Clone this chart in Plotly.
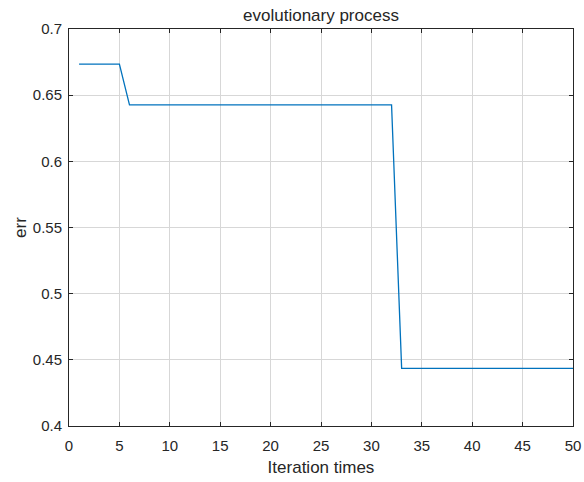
import plotly.graph_objects as go

iterations = list(range(1, 51))
err = [0.6734] * 5 + [0.6426] * 27 + [0.4436] * 18

x_ticks = [0, 5, 10, 15, 20, 25, 30, 35, 40, 45, 50]
y_ticks = [0.4, 0.45, 0.5, 0.55, 0.6, 0.65, 0.7]
y_labels = ["0.4", "0.45", "0.5", "0.55", "0.6", "0.65", "0.7"]

FONT = "Liberation Sans, Arial"
DARK = "#262626"

fig = go.Figure()
fig.add_trace(go.Scatter(x=iterations, y=err, mode="lines",
                         line=dict(color="#0072BD", width=1.3)))

axis_common = dict(showline=True, linecolor=DARK, linewidth=1, mirror="ticks",
                   ticks="inside", ticklen=4, tickcolor=DARK, automargin=False,
                   showgrid=True, gridcolor="#D7D7D7", gridwidth=1, zeroline=False,
                   tickfont=dict(family=FONT, size=15, color=DARK))

fig.update_layout(
    width=584, height=482,
    margin=dict(l=69, r=11, t=29, b=56),
    paper_bgcolor="white", plot_bgcolor="white",
    showlegend=False,
    title=dict(text="evolutionary process", x=0.5, xanchor="center", xref="paper",
               y=1 - 15 / 482, yanchor="middle",
               font=dict(family=FONT, size=17, color=DARK)),
    xaxis=dict(range=[0, 50], tickvals=x_ticks, ticklabelstandoff=6, **axis_common,
               title=dict(text="Iteration times", standoff=8,
                          font=dict(family=FONT, size=17, color=DARK))),
    yaxis=dict(range=[0.4, 0.7], tickvals=y_ticks, ticktext=y_labels, ticklabelstandoff=3,
               **axis_common,
               title=dict(text="err", standoff=1,
                          font=dict(family=FONT, size=17, color=DARK))),
)

fig.write_html("out.html")
